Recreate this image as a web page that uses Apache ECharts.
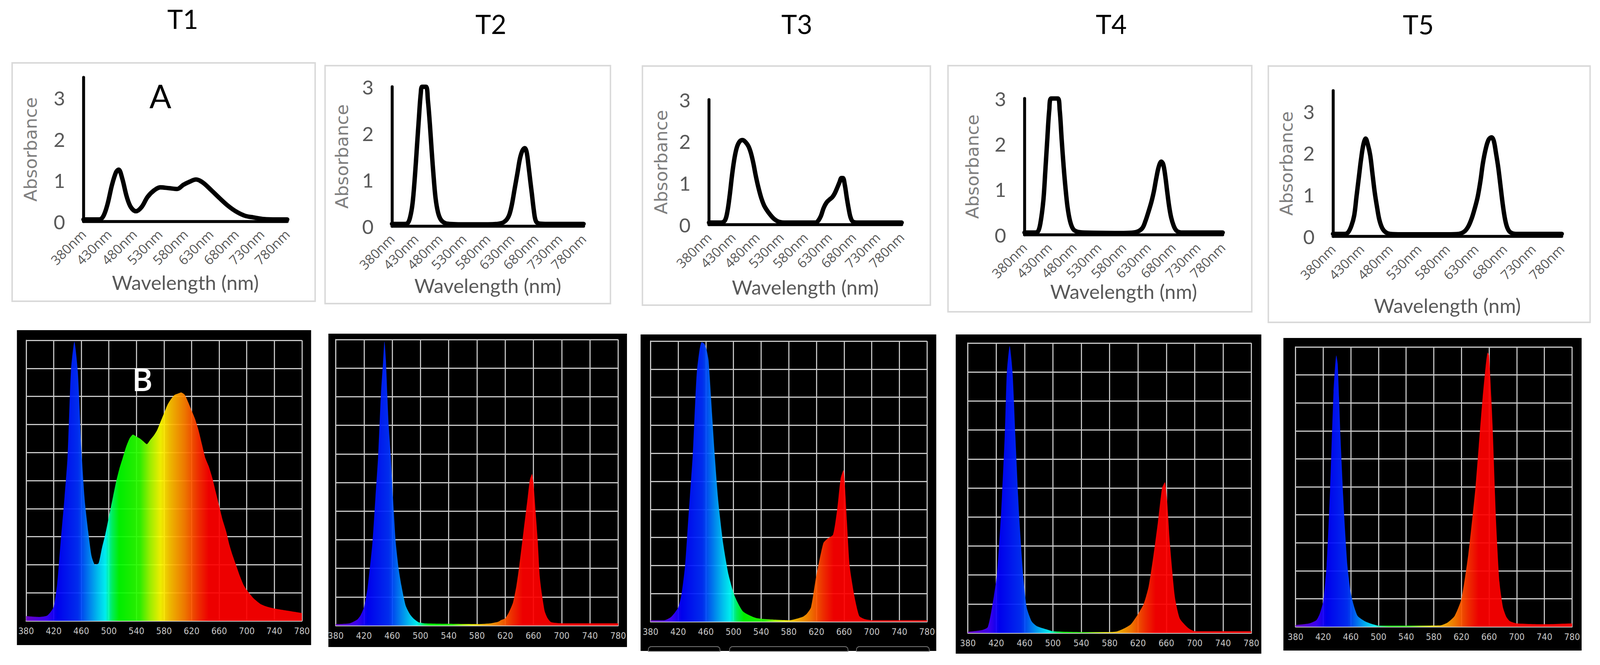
<!DOCTYPE html>
<html>
<head>
<meta charset="utf-8">
<title>Absorbance and light spectra, T1 to T5</title>
<script src="https://cdn.jsdelivr.net/npm/echarts@6/dist/echarts.min.js"></script>
<style>
  html, body { margin: 0; padding: 0; background: #fff; overflow: hidden; }
  #chart { width: 100vw; height: 100vh; }
</style>
</head>
<body>
<div id="chart"></div>
<script>
// ---- data ----
const treatments = ['T1', 'T2', 'T3', 'T4', 'T5'];
const absMax = [3.5, 3, 3, 3, 3.5];           // top axis upper bound per panel

// absorbance curves, [wavelength nm, absorbance]
const abs1 = [[380,0.05],[400,0.05],[411,0.05],[419,0.13],[427,0.41],[436,0.89],[444,1.2],[449,1.26],[456,1.05],[465,0.6],[473,0.35],[483,0.25],[494,0.35],[506,0.6],[519,0.76],[531,0.83],[548,0.81],[564,0.79],[576,0.89],[589,0.97],[601,1.02],[614,0.95],[631,0.76],[647,0.57],[664,0.38],[680,0.24],[697,0.14],[714,0.1],[734,0.06],[760,0.05],[780,0.05]];
const abs2 = [[380,0.05],[405,0.05],[413,0.07],[418,0.2],[423,0.5],[428,1.1],[432,1.7],[436,2.3],[440,2.85],[443,3.0],[451,3.0],[455,2.7],[459,2.2],[463,1.6],[467,1.05],[471,0.6],[476,0.3],[482,0.14],[490,0.07],[500,0.05],[540,0.04],[580,0.04],[600,0.05],[610,0.07],[615,0.1],[620,0.15],[625,0.25],[630,0.45],[636,0.8],[642,1.15],[647,1.45],[652,1.62],[657,1.68],[661,1.6],[665,1.3],[669,0.95],[672,0.7],[676,0.35],[680,0.12],[686,0.06],[700,0.05],[780,0.05]];
const abs3 = [[380,0.05],[405,0.05],[413,0.1],[418,0.3],[423,0.7],[428,1.2],[433,1.6],[438,1.86],[444,2.0],[450,2.03],[456,1.98],[462,1.88],[467,1.72],[472,1.48],[477,1.18],[482,0.92],[488,0.66],[494,0.47],[500,0.35],[507,0.24],[515,0.14],[525,0.07],[540,0.05],[600,0.05],[605,0.07],[612,0.2],[618,0.4],[624,0.53],[630,0.6],[636,0.66],[641,0.75],[646,0.88],[651,1.02],[655,1.12],[658,1.12],[662,0.95],[666,0.65],[670,0.38],[674,0.17],[679,0.07],[690,0.05],[780,0.05]];
const abs4 = [[380,0.05],[400,0.05],[407,0.07],[412,0.25],[418,0.75],[422,1.4],[426,2.1],[430,2.75],[434,3.0],[447,3.0],[451,2.75],[455,2.1],[459,1.5],[463,1.0],[467,0.6],[472,0.3],[478,0.13],[486,0.07],[500,0.05],[580,0.04],[600,0.05],[610,0.08],[618,0.15],[624,0.3],[630,0.5],[636,0.72],[641,0.95],[646,1.25],[651,1.5],[656,1.61],[660,1.55],[664,1.3],[668,0.95],[672,0.62],[676,0.38],[681,0.2],[686,0.1],[692,0.06],[700,0.05],[780,0.05]];
const abs5 = [[380,0.06],[400,0.06],[406,0.09],[412,0.25],[417,0.5],[421,0.95],[425,1.4],[429,1.85],[433,2.2],[437,2.35],[441,2.2],[445,1.95],[449,1.5],[453,1.05],[457,0.7],[461,0.4],[466,0.2],[472,0.1],[480,0.06],[500,0.05],[580,0.05],[600,0.06],[610,0.12],[617,0.25],[623,0.45],[628,0.68],[633,0.95],[638,1.35],[642,1.75],[647,2.1],[652,2.32],[657,2.38],[661,2.3],[665,2.0],[669,1.65],[673,1.2],[677,0.75],[681,0.4],[685,0.2],[690,0.1],[700,0.06],[780,0.06]];

// light spectra, [wavelength nm, relative intensity %]
const spec1 = [[380,1.7],[390,1.5],[400,1.4],[410,1.8],[415,3],[420,5],[425,13],[430,28],[435,42],[440,58],[445,89],[450,99.5],[455,89],[460,62],[465,43],[470,32],[475,23],[480,20],[485,20.5],[490,26],[495,31],[500,37],[505,43],[510,49],[515,54],[520,58],[525,62],[530,65],[535,66.4],[540,65.7],[545,65],[550,64],[555,63],[560,64.5],[565,66],[570,68],[575,71],[580,74],[585,77],[590,79],[595,80.5],[600,81],[605,81.4],[610,80.6],[615,78],[620,75],[625,72],[630,68],[635,63],[640,58],[645,55],[650,51],[655,46],[660,41],[665,36],[670,32],[675,27],[680,23],[685,19.5],[690,16],[695,13],[700,11],[710,8],[720,6],[730,5],[740,4.4],[760,3.6],[780,2.8]];
const spec2 = [[380,0.5],[400,0.8],[410,2],[415,3.5],[420,6.4],[425,13],[432,29],[436,44],[440,59],[444,81],[447,92],[449,99.4],[451,93],[453,81],[455,70],[458,59],[461,45],[465,29],[469,20],[473,14],[479,7],[485,4],[490,2.5],[497,1.2],[505,0.8],[540,0.6],[580,0.5],[600,0.8],[610,1.3],[615,2],[620,2.5],[625,4.5],[631,8],[636,14],[640,21],[646,33],[652,45],[655,51],[658,53],[660,50],[663,40],[666,30],[669,17],[672,11],[676,5],[680,2.6],[685,1.2],[700,0.8],[740,0.8],[780,0.8]];
const spec3 = [[380,0.5],[400,0.5],[410,1.7],[420,5],[425,10],[430,20],[435,38],[441,59],[444,75],[447,89],[451,97],[454,99.6],[458,99],[461,97],[464,93],[469,74],[473,59],[478,43],[485,28],[493,16.6],[502,9],[514,3.6],[533,1.3],[560,0.7],[581,0.5],[600,1.7],[606,2.8],[612,5],[620,16.6],[630,28],[636,29.6],[644,31],[650,40],[655,51],[659,54],[664,36],[668,20],[675,9],[682,2],[690,0.9],[700,0.5],[780,0.5]];
const spec4 = [[380,0.4],[400,1],[408,2],[414,8.8],[421,20],[427,42],[432,68],[435,90],[439,99],[443,90],[447,68],[452,42],[458,20],[463,8.8],[470,4],[477,2.4],[490,1.3],[500,0.6],[540,0.3],[580,0.3],[590,0.5],[600,1.5],[610,3],[620,6.5],[628,10],[635,16],[642,27],[648,38],[654,50],[658,52],[661,46],[665,31],[672,12.5],[679,5],[691,1.7],[700,0.6],[780,0.6]];
const spec5 = [[380,0.6],[400,1.2],[410,2.3],[415,4.6],[420,9],[425,22],[430,49],[435,84],[439,97],[441,94],[445,68],[450,41.5],[455,22],[460,12],[465,7],[470,3.8],[480,2],[490,1],[500,0.4],[560,0.4],[590,0.5],[600,1.5],[610,3.8],[620,10],[630,26],[640,49],[645,64.5],[650,80],[655,93],[658,98],[660,97],[665,72],[670,38],[675,16],[680,7],[685,3.5],[690,2],[700,1.2],[740,0.9],[780,1.2]];

const absCurves = [abs1, abs2, abs3, abs4, abs5];
const spectra = [spec1, spec2, spec3, spec4, spec5];

// ---- layout, in pixels of a 4351 x 1702 page (scaled to the real window below) ----
const titlePos = [[497, 47], [1335, 60], [2167, 60], [3022, 60], [3857, 61]];
const topFrames = [[33,161,824,610],[884,168,776,609],[1747,169,783,612],[2578,168,826,630],[3449,169,875,656]];
const topPlots = [[227,198,554,369],[1066,222,521,357],[1928,255,524,320],[2786,252,539,349],[3625,232,622,373]];
const xNameGap = [130, 126, 134, 119, 151];
const yNameGap = [120, 112, 106, 118, 103];
const darkBoxes = [[46,845,800,806],[893,854,812,802],[1742,856,804,810],[2599,856,831,817],[3490,865,811,800]];
const darkPlots = [[71,871,750,718],[913,869,768,732],[1769,873,752,718],[2632,878,771,742],[3523,888,752,716]];
const tabs = [[1763, 195], [1984, 322], [2329, 198]];

const GRAY_TEXT = '#595959';
const GRID_LINE = '#c8c8c8';

// wavelength colour ramp for the spectrum fill
const rainbowStops = [
  [0.0, '#7000d0'], [0.075, '#4000ff'], [0.1125, '#0000ff'], [0.1875, '#0030ff'],
  [0.225, '#0080ff'], [0.2625, '#00d0ff'], [0.2875, '#00ffff'], [0.3125, '#00ff60'],
  [0.3375, '#00ff00'], [0.4125, '#30ff00'], [0.45, '#a8ff00'], [0.4875, '#ffff00'],
  [0.525, '#ffc000'], [0.575, '#ff8000'], [0.625, '#ff3000'], [0.6625, '#ff0000'], [1.0, '#ff0000']
];

const el = document.getElementById('chart');
const chart = echarts.init(el, null, { renderer: 'svg' });

// scale the reference layout to whatever the window really is
const sx = el.clientWidth / 4351;
const sy = el.clientHeight / 1702;
const sf = Math.min(sx, sy);
const X = v => v * sx, Y = v => v * sy, F = v => v * sf;

const grids = [], xAxes = [], yAxes = [], series = [], graphics = [];

treatments.forEach((t, i) => {
  const p = topPlots[i];
  grids.push({ left: X(p[0]), top: Y(p[1]), width: X(p[2]), height: Y(p[3]), containLabel: false });
  xAxes.push({
    gridIndex: i, type: 'value', min: 380, max: 780, interval: 50,
    name: 'Wavelength (nm)', nameLocation: 'middle', nameGap: Y(xNameGap[i]),
    nameTextStyle: { fontSize: F(54), color: GRAY_TEXT, fontFamily: 'Lato' },
    axisLine: { show: true, onZero: false, lineStyle: { color: '#000', width: F(8) } },
    axisTick: { show: false }, splitLine: { show: false },
    axisLabel: { rotate: 45, formatter: '{value}nm', fontSize: F(36), color: GRAY_TEXT, margin: F(28), fontFamily: 'Open Sans' }
  });
  yAxes.push({
    gridIndex: i, type: 'value', min: 0, max: absMax[i], interval: 1,
    name: 'Absorbance', nameLocation: 'middle', nameGap: X(yNameGap[i]),
    nameTextStyle: { fontSize: F(48), color: '#7f7f7f', fontFamily: 'DejaVu Sans' },
    axisLine: { show: true, lineStyle: { color: '#000', width: F(8) } },
    axisTick: { show: false }, splitLine: { show: false },
    axisLabel: {
      fontSize: F(54), color: GRAY_TEXT, margin: X(50), fontFamily: 'Lato',
      formatter: v => (Number.isInteger(v) ? String(v) : '')
    }
  });
  series.push({
    type: 'line', xAxisIndex: i, yAxisIndex: i, data: absCurves[i],
    smooth: 0.35, showSymbol: false, z: 3,
    lineStyle: { color: '#000', width: F(12), cap: 'round', join: 'round' }
  });

  const f = topFrames[i];
  graphics.push({
    type: 'rect', z: -10, shape: { x: X(f[0]), y: Y(f[1]), width: X(f[2]), height: Y(f[3]) },
    style: { fill: '#fff', stroke: '#d9d9d9', lineWidth: F(4) }
  });
  graphics.push({
    type: 'text', z: 50, x: X(titlePos[i][0]), y: Y(titlePos[i][1]),
    style: { text: t, fill: '#000', fontSize: F(72), fontFamily: 'Lato', align: 'center', verticalAlign: 'middle' }
  });
});

treatments.forEach((t, i) => {
  const g = 5 + i;
  const p = darkPlots[i];
  grids.push({ left: X(p[0]), top: Y(p[1]), width: X(p[2]), height: Y(p[3]), containLabel: false });
  xAxes.push({
    gridIndex: g, type: 'value', min: 380, max: 780, interval: 40,
    axisLine: { show: true, onZero: false, lineStyle: { color: GRID_LINE, width: F(3) } },
    axisTick: { show: false },
    splitLine: { show: true, lineStyle: { color: GRID_LINE, width: F(3) } },
    axisLabel: { fontSize: F(25), color: '#c8c8c8', margin: Y(14), fontFamily: 'DejaVu Sans Condensed' }
  });
  yAxes.push({
    gridIndex: g, type: 'value', min: 0, max: 100, interval: 10,
    axisLine: { show: true, lineStyle: { color: GRID_LINE, width: F(3) } },
    axisTick: { show: false }, axisLabel: { show: false },
    splitLine: { show: true, lineStyle: { color: GRID_LINE, width: F(3) } }
  });
  series.push({
    type: 'line', xAxisIndex: g, yAxisIndex: g, data: spectra[i],
    smooth: 0.2, showSymbol: false, z: 3,
    lineStyle: { width: 0 },
    areaStyle: {
      opacity: 0.93,
      color: new echarts.graphic.LinearGradient(0, 0, 1, 0,
        rainbowStops.map(s => ({ offset: s[0], color: s[1] })))
    }
  });

  const b = darkBoxes[i];
  graphics.push({
    type: 'rect', z: -10, shape: { x: X(b[0]), y: Y(b[1]), width: X(b[2]), height: Y(b[3]) },
    style: { fill: '#000' }
  });
});

// small tab outlines at the foot of the T3 spectrum window
tabs.forEach(tab => {
  graphics.push({
    type: 'rect', z: -5, shape: { x: X(tab[0]), y: Y(1655), width: X(tab[1]), height: Y(12), r: [F(8), F(8), 0, 0] },
    style: { fill: '#000', stroke: '#7a7a7a', lineWidth: F(2) }
  });
});

// panel letters
graphics.push({
  type: 'text', z: 50, x: X(436), y: Y(245),
  style: { text: 'A', fill: '#000', fontSize: F(88), fontFamily: 'Lato', align: 'center', verticalAlign: 'middle' }
});
graphics.push({
  type: 'text', z: 50, x: X(387), y: Y(969),
  style: { text: 'B', fill: '#fff', fontSize: F(86), fontWeight: 600, fontFamily: 'Open Sans', align: 'center', verticalAlign: 'middle' }
});

chart.setOption({
  animation: false,
  backgroundColor: '#fff',
  grid: grids,
  xAxis: xAxes,
  yAxis: yAxes,
  series: series,
  graphic: { elements: graphics }
});
</script>
</body>
</html>
